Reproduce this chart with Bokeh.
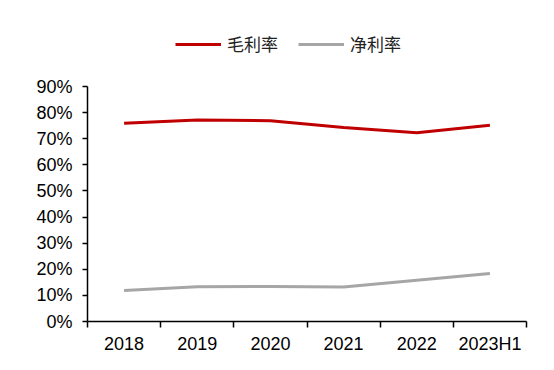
from bokeh.plotting import figure
from bokeh.models import Range1d, FixedTicker, Legend, LegendItem, PrintfTickFormatter
from bokeh.embed import file_html
from bokeh.resources import INLINE

years = ["2018", "2019", "2020", "2021", "2022", "2023H1"]
gross_margin = [75.9, 77.2, 76.9, 74.3, 72.3, 75.2]
net_margin = [11.9, 13.3, 13.4, 13.2, 15.8, 18.4]
y_ticks = [0, 10, 20, 30, 40, 50, 60, 70, 80, 90]

x = [i + 0.5 for i in range(len(years))]

# frame extends above the 90% line to hold the legend; axis bounded to 0-90
p = figure(width=546, height=362, output_backend="svg", toolbar_location=None,
           x_range=Range1d(0, len(years)), y_range=Range1d(0, 115.3),
           min_border_left=87, min_border_right=20, min_border_top=20, min_border_bottom=41)
p.outline_line_color = None
p.xgrid.grid_line_color = None
p.ygrid.grid_line_color = None
p.background_fill_color = "white"
p.border_fill_color = "white"

r1 = p.line(x, gross_margin, line_color="#C00000", line_width=3)
r2 = p.line(x, net_margin, line_color="#A6A6A6", line_width=3)

legend = Legend(items=[LegendItem(label="毛利率", renderers=[r1]),
                       LegendItem(label="净利率", renderers=[r2])],
                orientation="horizontal", location=(88, 265),
                glyph_width=46, glyph_height=10, label_standoff=6, spacing=20,
                label_text_font="Noto Sans CJK SC", label_text_font_size="17px",
                label_text_color="#222222", background_fill_alpha=0,
                border_line_color=None, padding=0, margin=0)
p.add_layout(legend, "center")

# x axis
p.xaxis.ticker = FixedTicker(ticks=x, minor_ticks=list(range(len(years) + 1)))
p.xaxis.major_label_overrides = {xi: yr for xi, yr in zip(x, years)}
p.xaxis.major_tick_line_color = None
p.xaxis.minor_tick_line_color = "black"
p.xaxis.minor_tick_out = 6
p.xaxis.minor_tick_in = 0
p.xaxis.minor_tick_line_width = 1.5
p.xaxis.axis_line_width = 1.5
p.xaxis.axis_line_color = "black"
p.xaxis.major_label_standoff = 6
p.xaxis.major_label_text_font = "Liberation Sans"
p.xaxis.major_label_text_font_size = "18px"
p.xaxis.major_label_text_color = "black"

# y axis
p.yaxis.ticker = FixedTicker(ticks=y_ticks)
p.yaxis.bounds = (0, 90)
p.yaxis.formatter = PrintfTickFormatter(format="%d%%")
p.yaxis.major_tick_out = 5
p.yaxis.major_tick_in = 0
p.yaxis.major_tick_line_width = 1.5
p.yaxis.minor_tick_line_color = None
p.yaxis.axis_line_width = 1.5
p.yaxis.axis_line_color = "black"
p.yaxis.major_label_standoff = 10
p.yaxis.major_label_text_font = "Liberation Sans"
p.yaxis.major_label_text_font_size = "18px"
p.yaxis.major_label_text_color = "black"

open("out.html", "w").write(file_html(p, INLINE))
